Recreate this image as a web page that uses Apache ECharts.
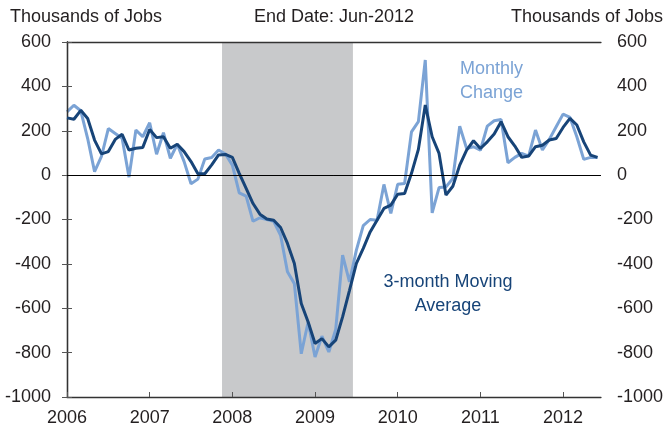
<!DOCTYPE html>
<html>
<head>
<meta charset="utf-8">
<script src="https://cdn.jsdelivr.net/npm/echarts@6/dist/echarts.min.js"></script>
<style>
  html, body { margin: 0; padding: 0; background: #fff; }
  #chart { width: 666px; height: 433px; }
</style>
</head>
<body>
<div id="chart"></div>
<script>
// months Jan 2006 .. Jun 2012
const years = ['2006', '2007', '2008', '2009', '2010', '2011', '2012'];
const months = [];
years.forEach(y => {
  for (let m = 1; m <= 12; m++) {
    if (y === '2012' && m > 6) break;
    months.push(y + '-' + String(m).padStart(2, '0'));
  }
});

// thousands of jobs
const monthlyChange = [
  285, 315, 290, 165, 16, 84, 210, 188, 166, -9, 203, 173,
  236, 94, 191, 76, 139, 61, -39, -18, 73, 79, 113, 95,
  45, -80, -95, -208, -192, -200, -208, -271, -436, -489, -805, -662,
  -820, -726, -797, -696, -361, -481, -338, -228, -200, -203, -42, -173,
  -41, -38, 195, 241, 519, -170, -56, -53, -15, 221, 120, 128,
  112, 221, 245, 251, 56, 80, 98, 86, 203, 113, 161, 218,
  275, 260, 173, 71, 80, 80
];
const movingAvg = [
  258, 252, 292, 255, 158, 96, 106, 161, 184, 113, 121, 125,
  206, 169, 173, 121, 139, 106, 61, 6, 6, 46, 91, 93,
  80, 8, -60, -128, -176, -198, -203, -236, -308, -398, -579, -662,
  -759, -737, -774, -744, -639, -519, -398, -330, -256, -203, -150, -135,
  -86, -83, 8, 116, 316, 173, 98, -90, -50, 45, 113, 155,
  120, 150, 185, 241, 173, 131, 80, 86, 128, 135, 158, 165,
  215, 256, 226, 150, 90, 80
];
const yTicks = [-1000, -800, -600, -400, -200, 0, 200, 400, 600];
const recession = ['2007-12', '2009-06'];

const FONT = "'Liberation Sans', Arial, sans-serif";
const LIGHT = '#7BA3D5';
const DARK = '#174478';
const TXT = '#231f20';

const yearIdx = years.map((y, i) => i * 12);
const recStart = months.indexOf(recession[0]) - 0.5;
const recEnd = months.indexOf(recession[1]) + 0.5;

const chart = echarts.init(document.getElementById('chart'), null, { renderer: 'canvas' });

const yAxisBase = {
  type: 'value',
  min: yTicks[0],
  max: yTicks[yTicks.length - 1],
  interval: 200,
  z: 3,
  axisLine: { show: true, lineStyle: { color: '#333', width: 1.3 } },
  axisTick: { show: true, inside: true, length: 5, lineStyle: { color: '#555' } },
  splitLine: { show: false },
  axisLabel: {
    fontFamily: FONT, fontSize: 18, color: TXT, margin: 16,
    formatter: v => String(v)
  }
};

const titleStyle = { fontFamily: FONT, fontSize: 18, fontWeight: 'normal', color: TXT };

chart.setOption({
  animation: false,
  textStyle: { fontFamily: FONT },
  title: [
    { text: 'Thousands of Jobs', left: 10, top: 8, padding: 0, textStyle: titleStyle },
    { text: 'End Date: Jun-2012', left: 254, top: 8, padding: 0, textStyle: titleStyle },
    { text: 'Thousands of Jobs', right: 3, top: 8, padding: 0, textStyle: titleStyle }
  ],
  grid: { left: 67, right: 65, top: 42, bottom: 36 },
  xAxis: [
    {
      type: 'value',
      min: 0,
      max: months.length - 0.5,
      z: 3,
      axisLine: { show: true, onZero: false, lineStyle: { color: '#333', width: 1.3 } },
      axisTick: { show: true, inside: true, length: 5, customValues: yearIdx, lineStyle: { color: '#555' } },
      splitLine: { show: false },
      axisLabel: {
        customValues: yearIdx,
        fontFamily: FONT, fontSize: 18, color: TXT, margin: 12,
        formatter: v => years[Math.round(v / 12)]
      }
    },
    {
      type: 'value',
      position: 'top',
      min: 0,
      max: months.length - 0.5,
      z: 3,
      axisLine: { show: true, onZero: false, lineStyle: { color: '#333', width: 1.3 } },
      axisTick: { show: false },
      axisLabel: { show: false },
      splitLine: { show: false }
    }
  ],
  yAxis: [
    Object.assign({}, yAxisBase, { position: 'left' }),
    Object.assign({}, yAxisBase, {
      position: 'right',
      axisLabel: Object.assign({}, yAxisBase.axisLabel, { align: 'left' })
    })
  ],
  graphic: [
    {
      type: 'text', left: 460, top: 57, z: 10,
      style: { text: 'Monthly\nChange', fill: LIGHT, font: '18px ' + FONT, lineHeight: 24 }
    },
    {
      type: 'text', x: 448, y: 270, z: 10,
      style: { text: '3-month Moving\nAverage', fill: DARK, font: '18px ' + FONT, lineHeight: 24, align: 'center' }
    }
  ],
  series: [
    {
      name: 'recession',
      type: 'line',
      data: [],
      z: 1,
      silent: true,
      markArea: {
        silent: true,
        itemStyle: { color: '#c8c9cb' },
        data: [[{ xAxis: recStart }, { xAxis: recEnd }]]
      },
      markLine: {
        silent: true,
        symbol: 'none',
        label: { show: false },
        lineStyle: { color: '#000', width: 1, type: 'solid' },
        data: [{ yAxis: 0 }]
      }
    },
    {
      name: 'Monthly Change',
      type: 'line',
      z: 2,
      showSymbol: false,
      data: monthlyChange.map((v, i) => [i, v]),
      lineStyle: { color: LIGHT, width: 3 },
      itemStyle: { color: LIGHT }
    },
    {
      name: '3-month Moving Average',
      type: 'line',
      z: 3,
      showSymbol: false,
      data: movingAvg.map((v, i) => [i, v]),
      lineStyle: { color: DARK, width: 3 },
      itemStyle: { color: DARK }
    }
  ]
});
</script>
</body>
</html>
